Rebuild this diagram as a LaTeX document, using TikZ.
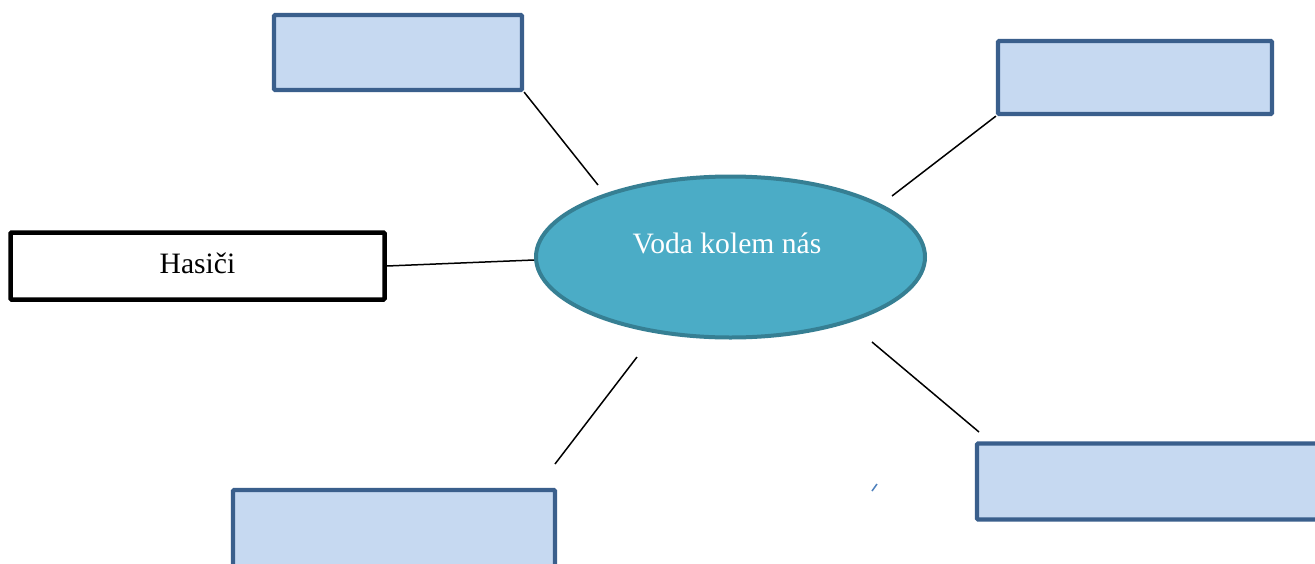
\documentclass[tikz,border=0pt]{standalone}
\usepackage{fontspec}
\setmainfont{Liberation Serif}
\usetikzlibrary{shapes.geometric}
\definecolor{boxfill}{HTML}{C6D9F1}
\definecolor{boxline}{HTML}{3A5F8C}
\definecolor{ellfill}{HTML}{4BACC6}
\definecolor{ellline}{HTML}{367F93}
\definecolor{tick}{HTML}{4F81BD}
\tikzset{
  bluebox/.style={draw=boxline, fill=boxfill, line width=4.2pt, rounded corners=1pt, inner sep=0pt},
  whitebox/.style={draw=black, fill=white, line width=4.5pt, rounded corners=1pt, inner sep=0pt},
  lbl/.style={inner sep=0pt, font=\fontsize{29.6}{35}\selectfont},
  conn/.style={draw=black, line width=1.5pt},
}
\begin{document}
\begin{tikzpicture}[x=1pt,y=-1pt]
\clip (0,0) rectangle (1315,563);
\fill[white] (0,0) rectangle (1315,563);
% ellipse
\node[ellipse, draw=ellline, fill=ellfill, line width=4pt, minimum width=389pt, minimum height=161pt, inner sep=0pt] (voda) at (730.5,257) {};
\node[lbl, text=white] (vodat) at (727,243) {Voda kolem nás};
% boxes
\node[bluebox, minimum width=248pt, minimum height=75pt] (tl) at (398,52.5) {};
\node[bluebox, minimum width=274pt, minimum height=73pt] (tr) at (1135,77.5) {};
\node[bluebox, minimum width=322pt, minimum height=110pt] (bl) at (394,545) {};
\node[bluebox, minimum width=380pt, minimum height=76pt] (br) at (1167,481.5) {};
\node[whitebox, minimum width=374pt, minimum height=67pt] (has) at (197.5,266) {};
\node[lbl] (hast) at (197.5,263) {Hasiči};
% free ends
\coordinate (c1) at (598,185);
\coordinate (c2) at (892,196);
\coordinate (c3) at (637,357);
\coordinate (c4) at (555,464);
\coordinate (c5) at (872,342);
\coordinate (c6) at (979,432);
\coordinate (t1) at (872,491);
\coordinate (t2) at (877,484);
% connectors
\draw[conn] (tl.south east) -- (c1);
\draw[conn] (tr.south west) -- (c2);
\draw[conn] (has.east) -- ([yshift=-3pt]voda.west);
\draw[conn] (c3) -- (c4);
\draw[conn] (c5) -- (c6);
\draw[draw=tick, line width=1.5pt] (t1) -- (t2);
\end{tikzpicture}
\end{document}
